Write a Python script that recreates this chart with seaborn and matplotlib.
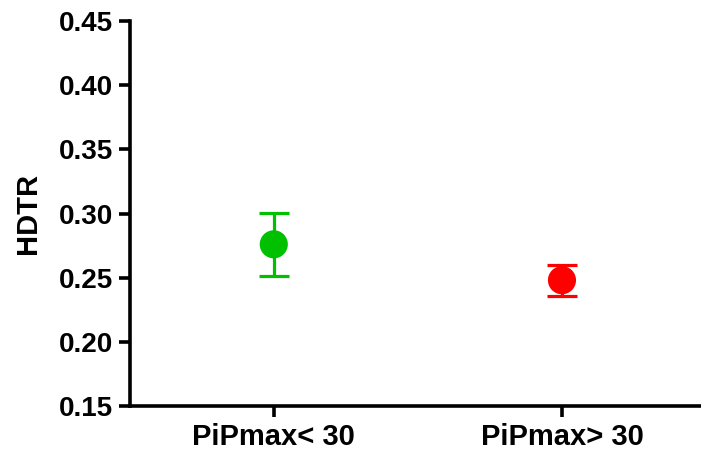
import matplotlib
matplotlib.use("Agg")
import matplotlib.pyplot as plt
import seaborn as sns
import pandas as pd

groups = ["PiPmax< 30", "PiPmax> 30"]
means = [0.276, 0.248]
errors = [0.0245, 0.012]
colors = ["#00C000", "#FF0000"]
yticks = [0.15, 0.20, 0.25, 0.30, 0.35, 0.40, 0.45]

sns.set_style("ticks")
plt.rcParams["font.family"] = ["Liberation Sans", "DejaVu Sans"]
plt.rcParams["font.weight"] = "bold"
plt.rcParams["text.color"] = "black"
plt.rcParams["axes.labelcolor"] = "black"
plt.rcParams["xtick.color"] = "black"
plt.rcParams["ytick.color"] = "black"
plt.rcParams["axes.edgecolor"] = "black"

df = pd.DataFrame({"group": groups, "HDTR": means})

fig = plt.figure(figsize=(7.01, 4.5), dpi=100)
ax = fig.add_axes([0.185, 0.098, 0.814, 0.855])

sns.scatterplot(data=df, x="group", y="HDTR", hue="group", palette=colors,
                s=410, edgecolor="none", legend=False, zorder=3, ax=ax)
for g, m, e, c in zip(groups, means, errors, colors):
    ax.errorbar([g], [m], yerr=[e], fmt="none", ecolor=c, elinewidth=2.3,
                capsize=10.5, capthick=2.3, zorder=2)

ax.set_xlim(-0.5, 1.48)
ax.set_ylim(0.15, 0.45)
ax.set_yticks(yticks)
ax.set_yticklabels([f"{v:.2f}" for v in yticks])
ax.set_xlabel("")
ax.set_ylabel("HDTR", fontsize=21, fontweight="bold", labelpad=12, color="black")
sns.despine(ax=ax)
for s in ["left", "bottom"]:
    ax.spines[s].set_linewidth(2.6)
    ax.spines[s].set_color("black")
ax.tick_params(axis="both", length=8, width=2.6, labelsize=20, pad=4,
               colors="black")
ax.tick_params(axis="x", labelsize=21, pad=4)
for lab in ax.get_xticklabels() + ax.get_yticklabels():
    lab.set_fontweight("bold")

fig.savefig("out.png", dpi=100)
